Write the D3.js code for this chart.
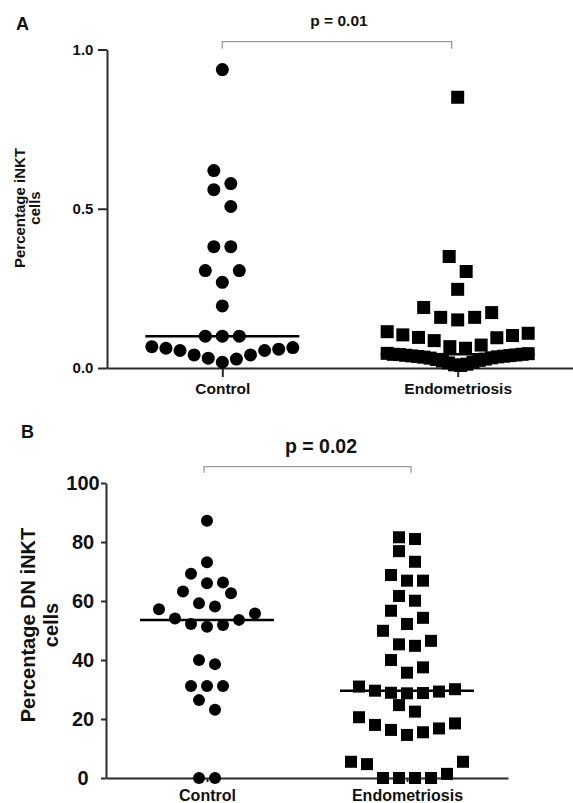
<!DOCTYPE html>
<html>
<head>
<meta charset="utf-8">
<script src="https://cdn.jsdelivr.net/npm/d3@7"></script>
<style>
  body { margin: 0; background: #fff; }
  text { font-family: "Liberation Sans", Arial, sans-serif; font-weight: bold; fill: #111; }
</style>
</head>
<body>
<div class="chart"></div>
<script>
var width = 573;
var height = 803;

var groups = ["Control", "Endometriosis"];

// panel A: percentage iNKT cells
var inktControl = [0.937, 0.62, 0.579, 0.56, 0.507, 0.381, 0.381, 0.306, 0.306, 0.269,
    0.195, 0.10, 0.10, 0.10, 0.067, 0.062, 0.055, 0.041, 0.031, 0.018, 0.028, 0.041,
    0.055, 0.059, 0.064];
var inktEndo = [0.85, 0.35, 0.303, 0.247, 0.19, 0.174, 0.159, 0.151, 0.159, 0.114,
    0.104, 0.096, 0.086, 0.067, 0.062, 0.072, 0.095, 0.102, 0.109,
    0.045, 0.043, 0.042, 0.040, 0.038, 0.036, 0.034, 0.031, 0.027, 0.022, 0.016, 0.010,
    0.008, 0.012, 0.018, 0.024, 0.028, 0.032, 0.035, 0.037, 0.039, 0.041, 0.043, 0.046];
var inktTicks = [0, 0.5, 1.0];

// panel B: percentage DN iNKT cells
var dnControl = [87.2, 73.1, 69.2, 66.0, 66.3, 63.2, 62.6, 59.2, 58.1, 57.2, 55.8, 54.1,
    53.6, 52.2, 51.3, 51.9, 40.0, 38.6, 31.2, 31.2, 31.2, 26.4, 23.1, 0, 0];
var dnEndo = [81.0, 81.6, 76.9, 73.3, 68.8, 66.9, 66.9, 61.7, 60.1, 56.7, 54.3, 52.2,
    49.9, 46.5, 45.3, 44.8, 40.0, 37.5, 35.7, 30.1, 28.7, 28.9, 29.3, 29.6, 28.8, 31.0,
    24.7, 22.5, 18.5, 16.8, 15.5, 14.6, 16.3, 18.0, 20.6, 5.5, 1.4, 0, 0, 0, 0, 4.7, 5.5];
var dnTicks = [0, 20, 40, 60, 80, 100];

var pLabels = ["p = 0.01", "p = 0.02"];

var svg = d3.select(".chart")
    .append("svg")
    .attr("width", width)
    .attr("height", height);

svg.append("rect")
    .attr("width", width)
    .attr("height", height)
    .attr("fill", "white");

// Prism-like scatter: values close together go in one row, lowest in the middle
function swarm(values, y, binPx, sp, maxW) {
    var sorted = values.slice().sort(function(a, b) { return a - b; });
    var out = [];
    var i = 0;
    while (i < sorted.length) {
        var start = y(sorted[i]);
        var grp = [];
        while (i < sorted.length && start - y(sorted[i]) < binPx) {
            grp.push(sorted[i]);
            i++;
        }
        var n = grp.length;
        var step = n > 1 ? Math.min(sp, maxW / (n - 1)) : 0;
        var slots = d3.range(n).map(function(k) { return k - (n - 1) / 2; })
            .sort(function(a, b) { return (Math.abs(a) - Math.abs(b)) || (b - a); });
        grp.forEach(function(v, k) {
            out.push({ v: v, dx: slots[k] * step });
        });
    }
    return out;
}

function panel(o) {
    var g = svg.append("g");

    var x = d3.scalePoint().domain(groups).range([o.left, o.right]).padding(o.pad);
    var y = d3.scaleLinear().domain(o.domain).range([o.bottom, o.top]);

    // y axis
    var yAxis = d3.axisLeft(y).tickValues(o.ticks).tickSize(o.ytick).tickSizeOuter(0)
        .tickFormat(o.fmt);
    var ya = g.append("g")
        .attr("transform", "translate(" + o.left + ",0)")
        .call(yAxis);
    ya.selectAll("text")
        .attr("x", o.labelX - o.left)
        .attr("text-anchor", "middle")
        .style("font-size", o.tickFont + "px");

    // x axis
    var xAxis = d3.axisBottom(x).tickSize(o.xtick).tickSizeOuter(0).tickPadding(o.xpad);
    var xa = g.append("g")
        .attr("transform", "translate(0," + o.bottom + ")")
        .call(xAxis);
    xa.selectAll("text").style("font-size", o.catFont + "px");

    g.selectAll(".domain, .tick line")
        .attr("stroke", "#2a2a2a")
        .attr("stroke-width", 2);
    g.selectAll(".tick text").attr("fill", "#111");

    // y title
    var title = g.append("text")
        .attr("transform", "translate(" + o.titleX + "," + o.titleY + ") rotate(-90)")
        .attr("text-anchor", "middle")
        .style("font-size", o.titleFont + "px");
    title.append("tspan").attr("x", 0).attr("dy", 0).text(o.title[0]);
    title.append("tspan").attr("x", 0).attr("dy", o.titleGap).text(o.title[1]);

    // panel letter
    g.append("text")
        .attr("x", o.letterX)
        .attr("y", o.letterY)
        .style("font-size", o.letterFont + "px")
        .text(o.letter);

    // points
    var ctrl = swarm(o.control, y, o.bin, o.sp, o.maxW);
    var endo = swarm(o.endo, y, o.bin, o.sp, o.maxW);

    g.selectAll(".dot")
        .data(ctrl)
        .enter().append("circle")
        .attr("cx", function(d) { return x("Control") + d.dx; })
        .attr("cy", function(d) { return y(d.v); })
        .attr("r", o.size / 2)
        .attr("fill", "black");

    g.selectAll(".sq")
        .data(endo)
        .enter().append("rect")
        .attr("x", function(d) { return x("Endometriosis") + d.dx - o.size / 2; })
        .attr("y", function(d) { return y(d.v) - o.size / 2; })
        .attr("width", o.size)
        .attr("height", o.size)
        .attr("fill", "black");

    // medians
    var meds = [
        { k: "Control", m: d3.median(o.control) },
        { k: "Endometriosis", m: d3.median(o.endo) }
    ];
    g.selectAll(".med")
        .data(meds)
        .enter().append("line")
        .attr("x1", function(d) { return x(d.k) - o.medW; })
        .attr("x2", function(d) { return x(d.k) + o.medW; })
        .attr("y1", function(d) { return y(d.m); })
        .attr("y2", function(d) { return y(d.m); })
        .attr("stroke", "black")
        .attr("stroke-width", 2.5);

    // significance bracket
    var bx1 = x("Control") + o.br[0];
    var bx2 = x("Endometriosis") + o.br[1];
    g.append("path")
        .attr("d", "M" + bx1 + "," + (o.brY + o.brLeg) + "V" + o.brY + "H" + bx2 + "V" + (o.brY + o.brLeg))
        .attr("fill", "none")
        .attr("stroke", "#9a9a9a")
        .attr("stroke-width", 1.3);
    g.append("text")
        .attr("x", o.pX)
        .attr("y", o.pY)
        .attr("text-anchor", "middle")
        .style("font-size", o.pFont + "px")
        .text(o.p);
}

panel({
    letter: "A", letterX: 16, letterY: 30, letterFont: 18,
    left: 107, right: 573, pad: 0.49, top: 49.5, bottom: 368,
    domain: [0, 1], ticks: inktTicks, fmt: d3.format(".1f"),
    ytick: 9, labelX: 83, tickFont: 15,
    xtick: 9, xpad: 6, catFont: 15.5,
    title: ["Percentage iNKT", "cells"], titleX: 25, titleY: 208, titleGap: 15, titleFont: 15,
    control: inktControl, endo: inktEndo,
    bin: 17, sp: 17, maxW: 141, size: 13, medW: 77,
    br: [0, -6], brY: 41.7, brLeg: 7,
    p: pLabels[0], pX: 339, pY: 26, pFont: 15.5
});

panel({
    letter: "B", letterX: 21, letterY: 438, letterFont: 18,
    left: 106, right: 508, pad: 0.505, top: 483, bottom: 778,
    domain: [0, 100], ticks: dnTicks, fmt: d3.format("d"),
    ytick: 5, labelX: 83, tickFont: 20,
    xtick: 4, xpad: 8, catFont: 16,
    title: ["Percentage DN iNKT", "cells"], titleX: 35, titleY: 625, titleGap: 23, titleFont: 20,
    control: dnControl, endo: dnEndo,
    bin: 18, sp: 16, maxW: 112, size: 12, medW: 67,
    br: [-3, 4], brY: 466.7, brLeg: 6,
    p: pLabels[1], pX: 321, pY: 452.5, pFont: 19.5
});
</script>
</body>
</html>
